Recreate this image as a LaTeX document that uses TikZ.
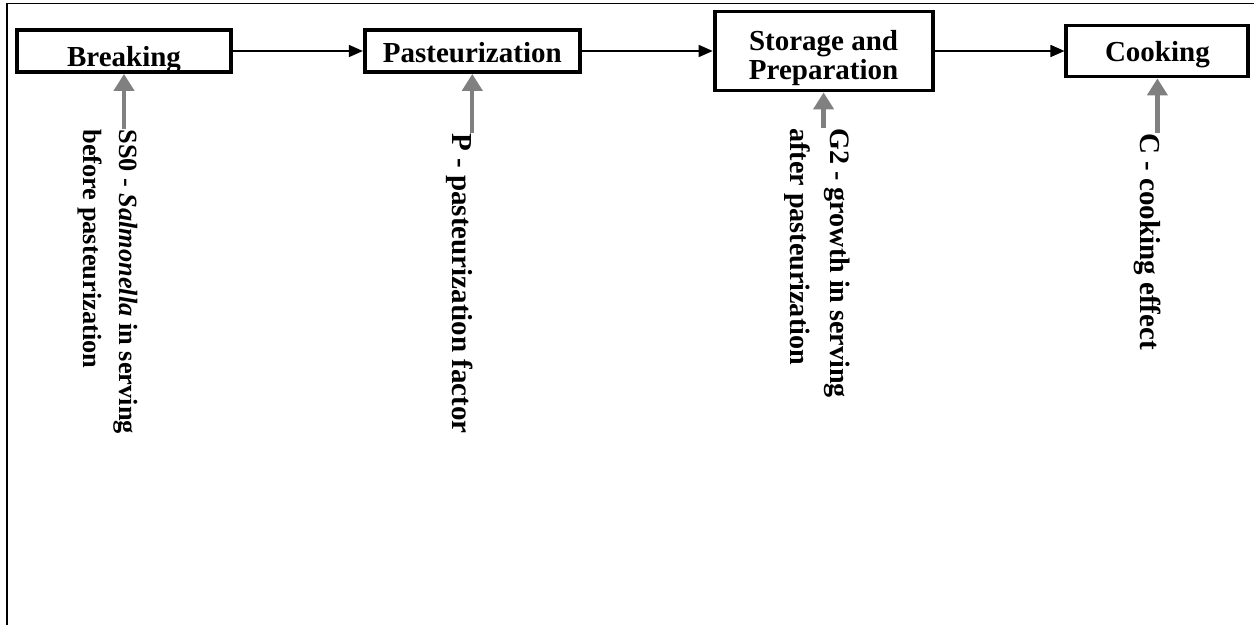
\documentclass[tikz,border=0pt]{standalone}
\usepackage{fontspec}
\setmainfont{Liberation Serif}
\usetikzlibrary{positioning,arrows.meta}

\tikzstyle{flow} = [
    line width=0.9pt,
    -{Triangle[length=0.28cm,width=0.24cm]},
    draw=black
]
\tikzstyle{feed} = [
    line width=2.4pt,
    -{Triangle[length=0.34cm,width=0.4cm]},
    draw=gray,
    fill=gray
]

\begin{document}
\begin{tikzpicture}[
    x=0.02cm, y=-0.02cm,
    node distance=2.6cm,
    stage/.style={
        rectangle,
        draw=black,
        line width=2.2pt,
        inner sep=0pt,
        align=center,
        font=\bfseries\fontsize{16.5}{16.5}\selectfont
    },
    factor/.style={
        rotate=-90,
        anchor=base west,
        inner sep=0pt,
        align=left,
        font=\bfseries\fontsize{16.5}{20.5}\selectfont
    }
]
\useasboundingbox (0,0) rectangle (1254,625);

% Frame
\draw[line width=1.1pt] (1254,3.5) -- (7,3.5) -- (7,625);

% Process steps
\node[stage, minimum width=4.28cm, minimum height=0.84cm, text height=0.74cm, text depth=0.1cm] (brk) at (124,51) {Breaking};
\node[stage, right=of brk, minimum width=4.3cm, minimum height=0.84cm, text height=0.66cm, text depth=0.18cm] (past) {Pasteurization};
\node[stage, right=2.62cm of past, minimum width=4.36cm, minimum height=1.58cm, text height=1.36cm, text depth=0.22cm] (stor) {Storage and\\Preparation};
\node[stage, right=of stor, minimum width=3.64cm, minimum height=1.02cm, text height=0.72cm, text depth=0.3cm] (cook) {Cooking};

% Model factors (base = last line)
\node[factor, font=\bfseries\fontsize{15}{20.5}\selectfont] (ss0) at (83,129) {SS0 - \textit{Salmonella} in serving\\before pasteurization};
\node[factor] (pf) at (452,133) {P - pasteurization factor};
\node[factor, font=\bfseries\fontsize{16}{22.8}\selectfont] (g2) at (790,128) {G2 - growth in serving\\after pasteurization};
\node[factor] (ck) at (1140,133) {C - cooking effect};

% Arrows
\draw[flow] (brk) -- (past);
\draw[flow] (past) -- (stor);
\draw[flow] (stor) -- (cook);
\draw[feed] (brk.south |- ss0.base west) -- (brk.south);
\draw[feed] (past.south |- pf.base west) -- (past.south);
\draw[feed] (stor.south |- g2.base west) -- (stor.south);
\draw[feed] (cook.south |- ck.base west) -- (cook.south);

\end{tikzpicture}
\end{document}
